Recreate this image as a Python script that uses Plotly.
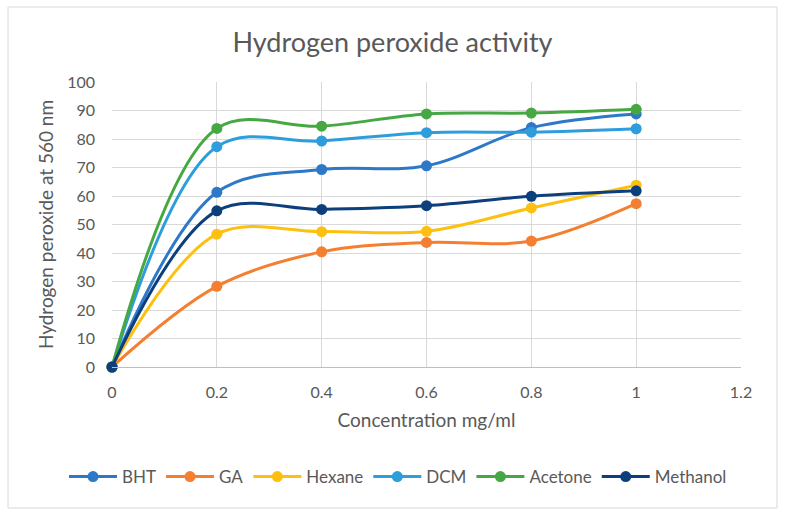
import plotly.graph_objects as go

concentration = [0, 0.2, 0.4, 0.6, 0.8, 1.0]
series_names = ["BHT", "GA", "Hexane", "DCM", "Acetone", "Methanol"]
bht = [0, 61.3, 69.3, 70.6, 84.0, 88.8]
ga = [0, 28.3, 40.4, 43.7, 44.2, 57.3]
hexane = [0, 46.6, 47.5, 47.6, 55.8, 63.8]
dcm = [0, 77.3, 79.3, 82.2, 82.4, 83.6]
acetone = [0, 83.7, 84.5, 88.8, 89.1, 90.4]
methanol = [0, 54.8, 55.3, 56.6, 59.9, 61.8]
colors = ["#2E78C8", "#F47F31", "#FEC010", "#2E9DDB", "#46A842", "#0C3F7C"]

x_ticks = [0, 0.2, 0.4, 0.6, 0.8, 1.0, 1.2]
x_tick_labels = ["0", "0.2", "0.4", "0.6", "0.8", "1", "1.2"]
y_ticks = list(range(0, 101, 10))

fig = go.Figure()
for name, vals, col in zip(series_names, [bht, ga, hexane, dcm, acetone, methanol], colors):
    fig.add_trace(go.Scatter(
        x=concentration, y=vals, name=name, mode="lines+markers",
        line=dict(color=col, width=3, shape="spline", smoothing=1.0),
        marker=dict(color=col, size=11), cliponaxis=False,
    ))

font_family = "Lato, Carlito, 'Open Sans', sans-serif"
fig.update_layout(
    width=785, height=515,
    margin=dict(l=112, r=44, t=82, b=148, autoexpand=False),
    paper_bgcolor="white", plot_bgcolor="white",
    font=dict(family=font_family, color="#595959", size=16),
    title=dict(text="Hydrogen peroxide activity", x=0.5, xanchor="center",
               y=1 - 43 / 515, yanchor="middle", font=dict(size=27, color="#595959")),
    xaxis=dict(range=[0, 1.2], tickvals=x_ticks, ticktext=x_tick_labels,
               showgrid=True, gridcolor="#D9D9D9", gridwidth=1,
               showline=True, linecolor="#BFBFBF", linewidth=1,
               zeroline=False, ticks="", tickfont=dict(size=16), ticklabelstandoff=11,
               title=dict(text="Concentration mg/ml", font=dict(size=19), standoff=13)),
    yaxis=dict(range=[0, 100], tickvals=y_ticks,
               showgrid=True, gridcolor="#D9D9D9", gridwidth=1,
               showline=False, zeroline=False, ticks="", tickfont=dict(size=16), ticklabelstandoff=16,
               title=dict(text="Hydrogen peroxide at 560 nm", font=dict(size=19), standoff=8)),
    legend=dict(orientation="h", x=(64 - 112) / 629, xanchor="left", y=-0.386, yanchor="middle",
                font=dict(size=17), itemwidth=48, traceorder="normal"),
    showlegend=True,
)
fig.add_shape(type="rect", xref="paper", yref="paper", x0=-0.1653, x1=1.0572, y0=-0.4947, y1=1.263,
              line=dict(color="#D9D9D9", width=1), layer="below")

fig.write_html("out.html", post_script="document.body.style.margin='0';",
               config={"displayModeBar": False})
